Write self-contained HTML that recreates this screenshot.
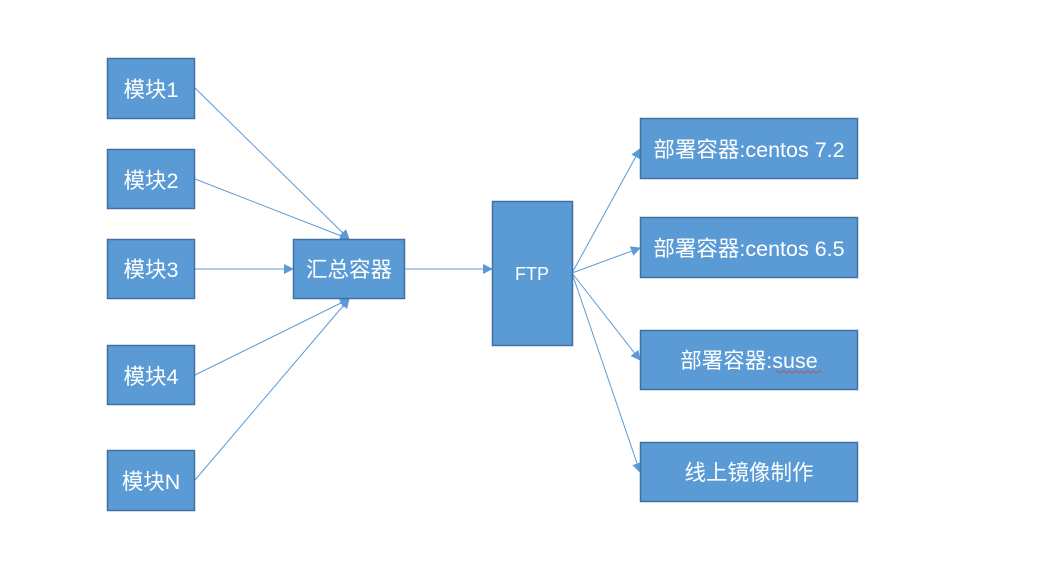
<!DOCTYPE html>
<html><head><meta charset="utf-8">
<style>
html,body{margin:0;padding:0;background:#fff;}
svg{display:block;}
text{font-family:"Liberation Sans","Noto Sans CJK SC",sans-serif;fill:#fff;}
</style></head>
<body>
<svg width="1040" height="578" viewBox="0 0 1040 578" xmlns="http://www.w3.org/2000/svg">
<defs>
<marker id="a" viewBox="0 0 10 10" refX="9" refY="5" markerWidth="10" markerHeight="10" markerUnits="userSpaceOnUse" orient="auto">
<path d="M0,0 L10,5 L0,10 z" fill="#5B9BD5"/>
</marker>
</defs>
<g stroke="#5B9BD5" stroke-width="1" fill="none" marker-end="url(#a)">
<line x1="195" y1="88" x2="349" y2="239"/>
<line x1="195" y1="179" x2="349" y2="239"/>
<line x1="195" y1="269" x2="293" y2="269"/>
<line x1="195" y1="375" x2="349" y2="299"/>
<line x1="195" y1="480" x2="349" y2="299"/>
<line x1="405" y1="269" x2="492" y2="269"/>
<line x1="572" y1="273" x2="640" y2="149"/>
<line x1="572" y1="273" x2="640" y2="248"/>
<line x1="572" y1="273" x2="640" y2="360"/>
<line x1="572" y1="273" x2="640" y2="472"/>
</g>
<g fill="#5B9BD5" stroke="#41719C" stroke-width="1.5">
<rect x="107.5" y="58.5" width="87" height="60"/>
<rect x="107.5" y="149.5" width="87" height="59"/>
<rect x="107.5" y="239.5" width="87" height="59"/>
<rect x="107.5" y="345.5" width="87" height="59"/>
<rect x="107.5" y="450.5" width="87" height="60"/>
<rect x="293.5" y="239.5" width="111" height="59"/>
<rect x="492.5" y="201.5" width="80" height="144"/>
<rect x="640.5" y="118.5" width="217" height="60"/>
<rect x="640.5" y="217.5" width="217" height="60"/>
<rect x="640.5" y="330.5" width="217" height="59"/>
<rect x="640.5" y="442.5" width="217" height="59"/>
</g>
<g font-size="21.5" text-anchor="middle">
<text x="151" y="97">模块1</text>
<text x="151" y="188">模块2</text>
<text x="151" y="277">模块3</text>
<text x="151" y="384">模块4</text>
<text x="151" y="489">模块N</text>
<text x="349" y="277">汇总容器</text>
<text x="532" y="280" font-size="18">FTP</text>
<text x="749" y="157">部署容器:centos 7.2</text>
<text x="749" y="256">部署容器:centos 6.5</text>
<text x="749" y="368">部署容器:suse</text>
<text x="749" y="480">线上镜像制作</text>
</g>
<path d="M776,372 q1.5,-2 3,0 t3,0 t3,0 t3,0 t3,0 t3,0 t3,0 t3,0 t3,0 t3,0 t3,0 t3,0 t3,0 t3,0 t3,0" stroke="#d04040" stroke-width="0.8" fill="none"/>
</svg>
</body></html>
